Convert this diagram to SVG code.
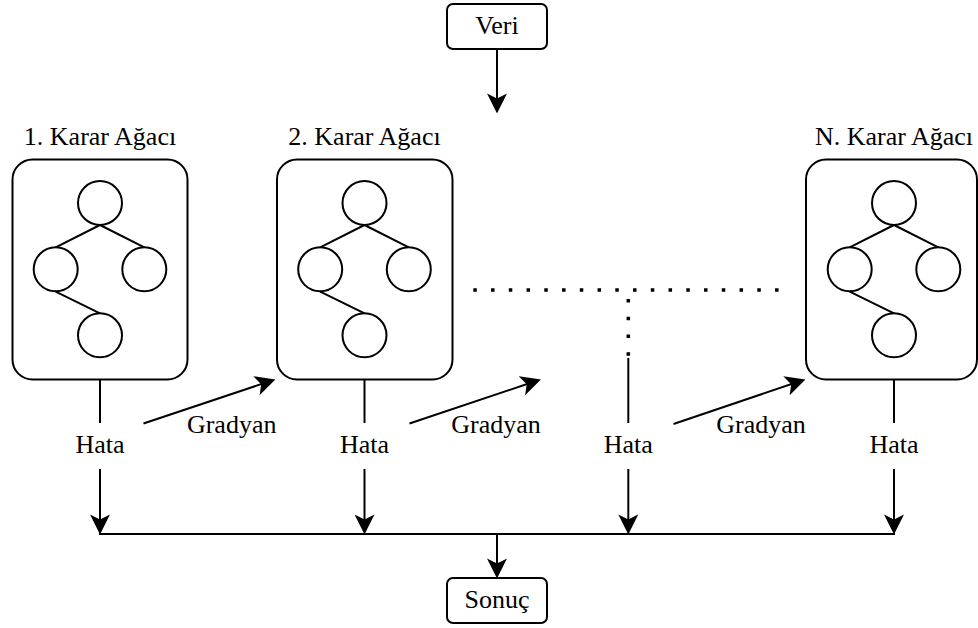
<svg xmlns="http://www.w3.org/2000/svg" width="978" height="628" viewBox="0 0 978 628">
<defs>
<style>
.box{fill:#fff;stroke:#000;stroke-width:2}
.c{fill:#fff;stroke:#000;stroke-width:2}
.e{fill:none;stroke:#000;stroke-width:2}
.ln{fill:none;stroke:#000;stroke-width:2}
.ar{fill:none;stroke:#000;stroke-width:2;marker-end:url(#ah)}
.dot{fill:none;stroke:#000;stroke-width:3.5;stroke-dasharray:3.5 14.25}
text{font-family:"Liberation Serif","Times New Roman",serif;font-size:26px;fill:#000;text-anchor:middle}
</style>
<marker id="ah" markerUnits="userSpaceOnUse" markerWidth="20" markerHeight="20" viewBox="0 0 18 18" refX="14" refY="9" orient="auto">
<path d="M0 0 L18 9 L0 18 L4.5 9 Z" fill="#000"/>
</marker>
<g id="tree">
<line class="e" x1="0" y1="22" x2="-44.3" y2="44.3"/>
<line class="e" x1="0" y1="22" x2="44.3" y2="44.3"/>
<line class="e" x1="-44.3" y1="88.6" x2="0" y2="110.3"/>
<circle class="c" cx="0" cy="0" r="22"/>
<circle class="c" cx="-44.3" cy="66.3" r="22"/>
<circle class="c" cx="44.3" cy="66.3" r="22"/>
<circle class="c" cx="0" cy="132.3" r="22"/>
</g>
</defs>

<g id="veri">
<rect class="box" x="447" y="4" width="100" height="45" rx="6"/>
<text x="497" y="34">Veri</text>
</g>

<g id="tree1">
<text x="100" y="145">1. Karar Ağacı</text>
<rect class="box" x="12.5" y="159.5" width="175" height="220" rx="20"/>
<use href="#tree" x="100" y="203"/>
</g>

<g id="tree2">
<text x="364.5" y="145">2. Karar Ağacı</text>
<rect class="box" x="277" y="159.5" width="175.5" height="220" rx="20"/>
<use href="#tree" x="364.5" y="203"/>
</g>

<g id="treeN">
<text x="894" y="145">N. Karar Ağacı</text>
<rect class="box" x="806" y="159.5" width="171" height="220" rx="20"/>
<use href="#tree" x="894" y="203"/>
</g>

<g id="sonuc">
<rect class="box" x="447" y="578" width="100" height="45" rx="6"/>
<text x="497" y="608">Sonuç</text>
</g>

<g id="connectors">
<line class="ar" x1="497" y1="49" x2="497" y2="109"/>
<line class="ln" x1="100" y1="380" x2="100" y2="423"/>
<line class="ln" x1="364.5" y1="380" x2="364.5" y2="423"/>
<line class="ln" x1="628.3" y1="358" x2="628.3" y2="423"/>
<line class="ln" x1="894" y1="380" x2="894" y2="423"/>
<line class="dot" x1="473.3" y1="290" x2="780" y2="290"/>
<line class="dot" x1="628.3" y1="355.8" x2="628.3" y2="297"/>
<line class="ar" x1="100" y1="469" x2="100" y2="530"/>
<line class="ar" x1="364.5" y1="469" x2="364.5" y2="530"/>
<line class="ar" x1="628.3" y1="469" x2="628.3" y2="530"/>
<line class="ar" x1="894" y1="469" x2="894" y2="530"/>
<line class="ln" x1="99" y1="534" x2="895" y2="534"/>
<line class="ar" x1="497" y1="534" x2="497" y2="574"/>
<line class="ar" x1="143.5" y1="423.5" x2="271.2" y2="380.8"/>
<line class="ar" x1="409.5" y1="423.5" x2="536.7" y2="380.8"/>
<line class="ar" x1="673.5" y1="424" x2="801.2" y2="380.8"/>
</g>

<g id="labels">
<text x="100" y="453">Hata</text>
<text x="364.5" y="453">Hata</text>
<text x="628.3" y="453">Hata</text>
<text x="894" y="453">Hata</text>
<text x="231.7" y="433">Gradyan</text>
<text x="496" y="433">Gradyan</text>
<text x="761" y="433">Gradyan</text>
</g>
</svg>
